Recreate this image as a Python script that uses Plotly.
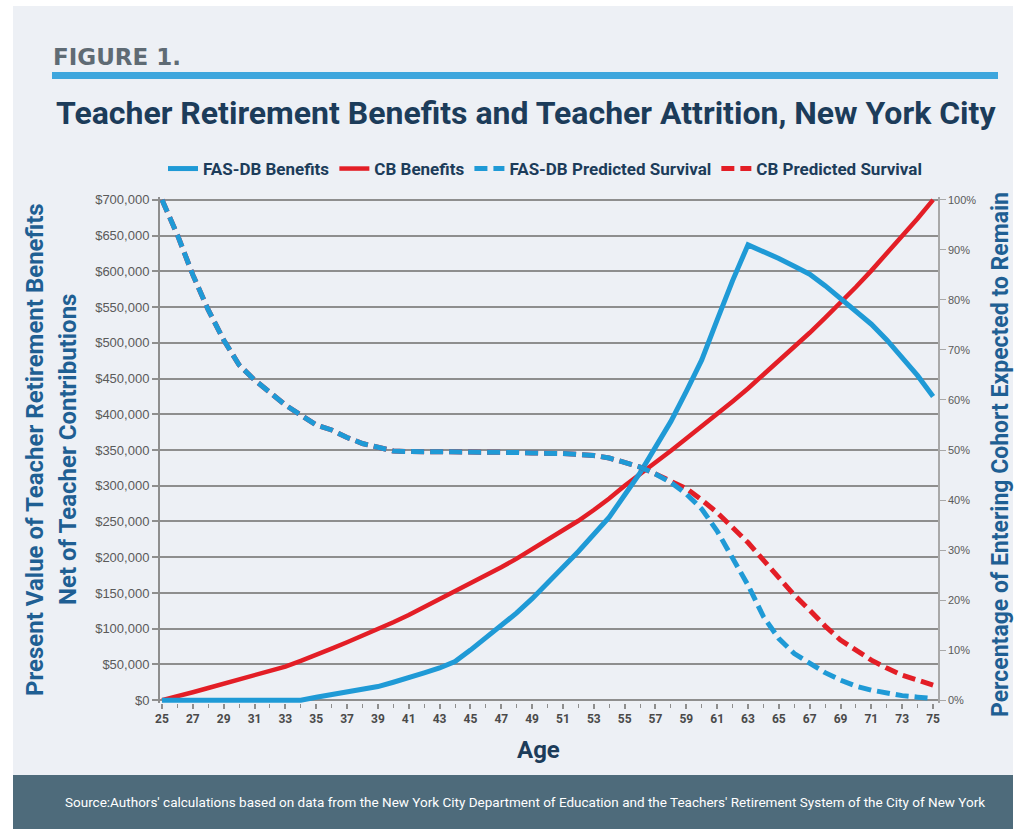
import plotly.graph_objects as go

# ---- data -------------------------------------------------------------
ages = list(range(25, 76))

fas_db_benefits = [
    0, 0, 0, 0, 0, 0, 0, 0, 0, 0,                     # 25-34
    4000, 8000, 11000, 15000, 19000,                  # 35-39
    25000, 31000, 38000, 45000, 54000,                # 40-44
    70000, 87000, 105000, 122000, 142000,             # 45-49
    163000, 186000, 208000, 232000, 256000,           # 50-54
    287000, 318000, 354000, 390000, 432000,           # 55-59
    476000, 532000, 587000, 637000, 628000,           # 60-64
    618000, 607000, 596000, 580000, 562000,           # 65-69
    545000, 526000, 504000, 480000, 454000,           # 70-74
    425000,                                           # 75
]

cb_benefits = [
    0, 5000, 11000, 17000, 23000,                     # 25-29
    29000, 35000, 41000, 47000, 55000,                # 30-34
    63000, 72000, 81000, 90000, 99000,                # 35-39
    109000, 119000, 130000, 141000, 152000,           # 40-44
    163000, 174000, 186000, 198000, 211000,           # 45-49
    224000, 237000, 251000, 266000, 282000,           # 50-54
    300000, 317000, 334000, 349000, 366000,           # 55-59
    383000, 400000, 418000, 436000, 455000,           # 60-64
    474000, 494000, 514000, 535000, 556000,           # 65-69
    578000, 601000, 625000, 649000, 674000,           # 70-74
    700000,                                           # 75
]

fas_db_survival = [
    100, 93, 85, 78, 72,                              # 25-29
    67, 64, 61.5, 59, 57,                             # 30-34
    55, 54, 52.5, 51.3, 50.5,                         # 35-39
    49.8, 49.7, 49.7, 49.7, 49.7,                     # 40-44
    49.6, 49.6, 49.5, 49.5, 49.4,                     # 45-49
    49.4, 49.3, 49.1, 48.9, 48.4,                     # 50-54
    47.6, 46.6, 45.2, 43.5, 41.2,                     # 55-59
    38.2, 33.8, 28.5, 23.0, 16.7,                     # 60-64
    12.3, 9.3, 7.3, 5.5, 4.0,                         # 65-69
    2.8, 2.0, 1.4, 0.9, 0.6,                          # 70-74
    0.3,                                              # 75
]

cb_survival = [
    100, 93, 85, 78, 72,                              # 25-29
    67, 64, 61.5, 59, 57,                             # 30-34
    55, 54, 52.5, 51.3, 50.5,                         # 35-39
    49.8, 49.7, 49.7, 49.7, 49.7,                     # 40-44
    49.6, 49.6, 49.5, 49.5, 49.4,                     # 45-49
    49.4, 49.3, 49.1, 48.9, 48.4,                     # 50-54
    47.6, 46.6, 45.2, 43.8, 42.3,                     # 55-59
    40.0, 37.5, 34.5, 31.5, 28.0,                     # 60-64
    24.5, 21.0, 18.0, 14.8, 12.0,                     # 65-69
    10.0, 8.0, 6.4, 5.0, 4.0,                         # 70-74
    3.0,                                              # 75
]

age_ticks = list(range(25, 76, 2))
dollar_ticks = list(range(0, 700001, 50000))
dollar_labels = [f"${v:,}" for v in dollar_ticks]
pct_ticks = list(range(0, 101, 10))
pct_labels = [f"{v}%" for v in pct_ticks]

# ---- styling ------------------------------------------------------------
W, H = 1025, 829
L, R, T, B = 160, 87, 197, 126
PW, PH = W - L - R, H - T - B

BLUE = "#1f9ad6"
RED = "#e31e26"
NAVY = "#1c3c5a"
AXIS_BLUE = "#1f5f93"
GRID = "#8e8e8e"
BG = "#edf0f5"
BAND = "#4e6b7b"
COND = "Roboto"
SANS = "Liberation Sans"


def px(x):
    return (x - L) / PW


def py(y):
    return (H - B - y) / PH


fig = go.Figure()

fig.add_trace(go.Scatter(
    x=ages, y=cb_survival, name="CB Predicted Survival", yaxis="y2",
    mode="lines", line=dict(color=RED, width=5, dash="13px,6px"), legendrank=4,
))
fig.add_trace(go.Scatter(
    x=ages, y=fas_db_survival, name="FAS-DB Predicted Survival", yaxis="y2",
    mode="lines", line=dict(color=BLUE, width=5, dash="13px,6px"), legendrank=3,
))
fig.add_trace(go.Scatter(
    x=ages, y=cb_benefits, name="CB Benefits",
    mode="lines", line=dict(color=RED, width=4.5), legendrank=2,
))
fig.add_trace(go.Scatter(
    x=ages, y=fas_db_benefits, name="FAS-DB Benefits",
    mode="lines", line=dict(color=BLUE, width=5), legendrank=1,
))

y_lo, y_hi = -4000, 704000
fig.update_layout(
    width=W, height=H, autosize=False,
    margin=dict(l=L, r=R, t=T, b=B, pad=0),
    paper_bgcolor="white",
    plot_bgcolor="rgba(0,0,0,0)",
    font=dict(family=SANS, color="#555555"),
    showlegend=True,
    legend=dict(
        orientation="h", x=px(163), y=py(169), xanchor="left", yanchor="middle",
        font=dict(family=COND, size=17, color=NAVY, weight="bold"),
        bgcolor="rgba(0,0,0,0)", itemwidth=30, tracegroupgap=0,
    ),
    xaxis=dict(
        range=[24.87, 75.32], tickvals=age_ticks, showgrid=False, zeroline=False,
        showline=False, ticks="outside", ticklen=5, tickcolor=GRID, tickwidth=1.5,
        minor=dict(ticks="outside", dtick=1, tick0=25, ticklen=4, tickcolor=GRID, tickwidth=1),
        tickfont=dict(family=COND, size=12, color="#4a4a4a", weight="bold"),
    ),
    yaxis=dict(
        range=[y_lo, y_hi], tickmode="array", tickvals=dollar_ticks, ticktext=dollar_labels,
        showgrid=True, gridcolor=GRID, gridwidth=1.6, zeroline=False,
        showline=True, linecolor=GRID, linewidth=2, ticks="outside", ticklen=6,
        tickcolor=GRID, tickwidth=1.5,
        tickfont=dict(family=SANS, size=13, color="#5a5a5a"),
    ),
    yaxis2=dict(
        range=[y_lo / 7000, y_hi / 7000], tickmode="array", tickvals=pct_ticks, ticktext=pct_labels,
        overlaying="y", side="right", showgrid=False, zeroline=False,
        showline=True, linecolor="#a8a8a8", linewidth=1.5, ticks="outside", ticklen=6,
        tickcolor="#a8a8a8", tickwidth=1.2,
        tickfont=dict(family=SANS, size=11, color="#5a5a5a"),
    ),
)

# page background, header rule and footer band
fig.add_shape(type="rect", xref="paper", yref="paper", layer="below",
              x0=px(13), x1=px(1013), y0=py(6), y1=py(775),
              fillcolor=BG, line=dict(width=0))
fig.add_shape(type="rect", xref="paper", yref="paper", layer="below",
              x0=px(13), x1=px(1013), y0=py(775), y1=py(829),
              fillcolor=BAND, line=dict(width=0))
fig.add_shape(type="rect", xref="paper", yref="paper", layer="below",
              x0=px(52), x1=px(998), y0=py(72), y1=py(79),
              fillcolor="#3ea6dd", line=dict(width=0))

annotations = [
    dict(text="<b>FIGURE 1.</b>", x=px(51), y=py(57), xanchor="left", yanchor="middle",
         font=dict(family="DejaVu Sans", size=23, color="#5f6b74"), showarrow=False),
    dict(text="<b>Teacher Retirement Benefits and Teacher Attrition, New York City</b>",
         x=px(526), y=py(113), xanchor="center", yanchor="middle",
         font=dict(family=COND, size=32, color=NAVY), showarrow=False),
    dict(text="<b>Present Value of Teacher Retirement Benefits</b>",
         x=px(35), y=py(450), xanchor="center", yanchor="middle", textangle=-90,
         font=dict(family=COND, size=24, color=AXIS_BLUE), showarrow=False),
    dict(text="<b>Net of Teacher Contributions</b>",
         x=px(68), y=py(450), xanchor="center", yanchor="middle", textangle=-90,
         font=dict(family=COND, size=24, color=AXIS_BLUE), showarrow=False),
    dict(text="<b>Percentage of Entering Cohort Expected to Remain</b>",
         x=px(1001), y=py(455), xanchor="center", yanchor="middle", textangle=-90,
         font=dict(family=COND, size=23, color=AXIS_BLUE), showarrow=False),
    dict(text="<b>Age</b>", x=px(538), y=py(750), xanchor="center", yanchor="middle",
         font=dict(family=COND, size=24, color=NAVY), showarrow=False),
    dict(text="Source:Authors' calculations based on data from the New York City Department "
              "of Education and the Teachers' Retirement System of the City of New York",
         x=px(525), y=py(802), xanchor="center", yanchor="middle",
         font=dict(family=COND, size=13.5, color="white"), showarrow=False),
]
for a in annotations:
    a.update(xref="paper", yref="paper")
fig.update_layout(annotations=annotations)

fig.write_html("out.html")
